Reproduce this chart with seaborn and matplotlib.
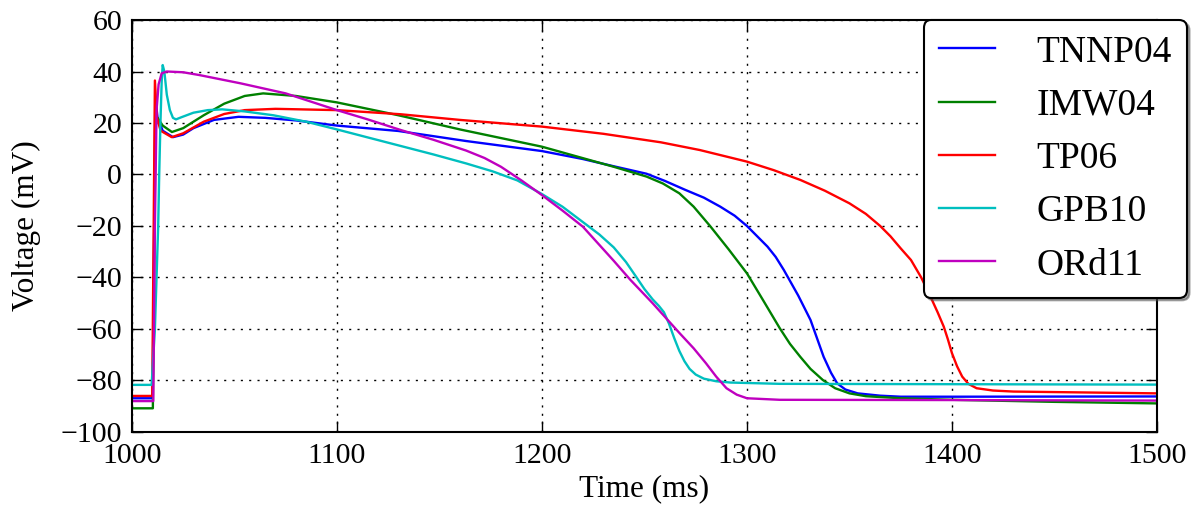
import matplotlib
matplotlib.use("Agg")
import matplotlib.pyplot as plt
import seaborn as sns
import pandas as pd

# Action potential traces (time in ms, voltage in mV)
tnnp04_t = [1000, 1010.1, 1011.4, 1012.5, 1015, 1020, 1025, 1030, 1040, 1052, 1065, 1080, 1100,
            1130, 1163, 1200, 1220, 1235, 1251, 1260, 1270, 1279, 1287, 1294, 1300, 1305, 1310,
            1314, 1318, 1325, 1331, 1337.4, 1341, 1344, 1348, 1354, 1365, 1375, 1400, 1500]
tnnp04_v = [-86.9, -86.9, 30, 22, 17, 14.5, 15.5, 18, 21.2, 22.4, 22, 21, 19,
            16.9, 13.0, 9.1, 6, 3.2, 0.3, -2.5, -6, -9, -12.5, -16, -20, -24, -28,
            -32, -37.1, -47, -56.5, -70.8, -77, -81.1, -83.5, -85, -85.9, -86.3, -86.3, -86.2]

imw04_t = [1000, 1010.2, 1011.5, 1012.5, 1015, 1019.5, 1025, 1035, 1045, 1055, 1064, 1080, 1100,
           1130, 1160, 1200, 1235, 1251, 1259, 1267, 1274, 1282, 1291, 1300, 1308, 1316, 1321,
           1326, 1331, 1337, 1343, 1350, 1358, 1375, 1400, 1450, 1500]
imw04_v = [-90.8, -90.8, 22, 22, 19, 16.5, 18, 23, 27.5, 30.5, 31.5, 30.5, 28,
           23, 17.5, 10.8, 3, -0.8, -3.5, -7.3, -12.5, -20, -29, -38.4, -49, -59.7, -65.8,
           -70.8, -75.5, -79.8, -83, -85, -86.1, -86.9, -87.5, -88.3, -88.9]

tp06_t = [1000, 1009.9, 1011.2, 1012.2, 1014, 1019.4, 1025, 1035, 1045, 1055, 1070, 1100, 1131,
          1160, 1200, 1230, 1258, 1277, 1300, 1313, 1326, 1338, 1350, 1358, 1365, 1370, 1375,
          1380, 1385, 1389.5, 1393, 1396, 1398, 1400, 1402.5, 1405, 1408, 1412, 1420, 1430, 1500]
tp06_v = [-86, -86, 36.5, 22, 17, 14.5, 16, 20.5, 23.5, 25, 25.5, 25, 23.4,
          21.2, 18.6, 15.8, 12.5, 9.5, 5, 1.7, -2.1, -6.3, -11.2, -15.3, -20, -24, -28.7,
          -33.2, -40, -47.4, -53.5, -59.1, -64, -69.4, -74.5, -78.5, -81.3, -83, -83.9, -84.3, -85]

gpb10_t = [1000, 1009.6, 1011.2, 1012, 1012.8, 1013.3, 1013.9, 1014.5, 1015, 1015.8, 1017, 1018.5,
           1020, 1021.5, 1024, 1030, 1037, 1044, 1055, 1069, 1085, 1100, 1115, 1131, 1147, 1163,
           1176, 1188, 1200, 1210, 1220, 1228, 1235, 1241, 1246, 1250, 1254, 1257, 1259.5, 1262,
           1264.5, 1267, 1269.5, 1272, 1275, 1279, 1285, 1292, 1316, 1500]
gpb10_v = [-81.7, -81.7, -60, -40, -20, 0, 20, 36, 42.5, 40, 31, 25,
           22, 21.4, 22.2, 24, 25, 25.3, 24.5, 23, 20.5, 17.5, 14.4, 11.1, 7.8, 4.3,
           1.2, -2.3, -7.6, -12.5, -18.5, -23.3, -28.3, -34, -39.8, -44.5, -48.5, -51, -53.5, -58,
           -63.5, -68.5, -72.5, -75.5, -77.7, -79.3, -80.3, -80.8, -81.3, -81.6]

ord11_t = [1000, 1010.4, 1011.2, 1012, 1013, 1014.5, 1017, 1025, 1033, 1053, 1075, 1100, 1115,
           1131, 1147, 1163, 1172, 1180, 1190, 1200, 1210, 1220, 1235, 1243, 1254, 1267, 1274,
           1280, 1285, 1290, 1295, 1300, 1316, 1400, 1500]
ord11_v = [-88, -88, -20, 25, 35, 39.3, 40, 39.7, 38.6, 35.4, 31.5, 25, 21.4,
           17.3, 13.5, 9.3, 6.4, 3, -2.3, -8, -14, -20.3, -33.5, -40.8, -50, -61.5, -67.5,
           -73.3, -78.5, -83, -85.5, -86.9, -87.5, -87.6, -87.8]

models = ["TNNP04", "IMW04", "TP06", "GPB10", "ORd11"]
colors = {"TNNP04": "b", "IMW04": "g", "TP06": "r", "GPB10": "c", "ORd11": "m"}

traces = {
    "TNNP04": (tnnp04_t, tnnp04_v),
    "IMW04": (imw04_t, imw04_v),
    "TP06": (tp06_t, tp06_v),
    "GPB10": (gpb10_t, gpb10_v),
    "ORd11": (ord11_t, ord11_v),
}
df = pd.concat(
    [pd.DataFrame({"time": t, "voltage": v, "model": name}) for name, (t, v) in traces.items()],
    ignore_index=True,
)

plt.rcParams["font.family"] = ["Liberation Serif", "DejaVu Serif"]

fig, ax = plt.subplots(figsize=(11.93, 5.09), dpi=100)
fig.subplots_adjust(left=0.1106, right=0.9698, top=0.9607, bottom=0.1513)

sns.lineplot(data=df, x="time", y="voltage", hue="model", hue_order=models,
             palette=colors, sort=False, estimator=None, linewidth=1.7, ax=ax)

ax.set_xlim(1000, 1500)
ax.set_ylim(-100, 60)
ax.set_xticks(range(1000, 1501, 100))
ax.set_yticks(range(-100, 61, 20))
ax.grid(True, color="k", linestyle=(0, (1.5, 4.5)), linewidth=1)
ax.tick_params(direction="in", length=8, width=1, top=True, right=True, labelsize=21.5)
ax.tick_params(axis="x", pad=8)
ax.tick_params(axis="y", pad=7)
for sp in ax.spines.values():
    sp.set_linewidth(1.5)
ax.set_xlabel("Time (ms)", fontsize=22.5, labelpad=4)
ax.set_ylabel("Voltage (mV)", fontsize=22.5, labelpad=14)

leg = ax.legend(loc="upper right", bbox_to_anchor=(1.029, 1.0), borderaxespad=0,
                fontsize=27, fancybox=True, shadow=True, framealpha=1,
                handlelength=1.5, handletextpad=1.1)
leg.get_frame().set_edgecolor("k")
leg.get_frame().set_linewidth(1.5)

fig.savefig("out.png", dpi=100)
